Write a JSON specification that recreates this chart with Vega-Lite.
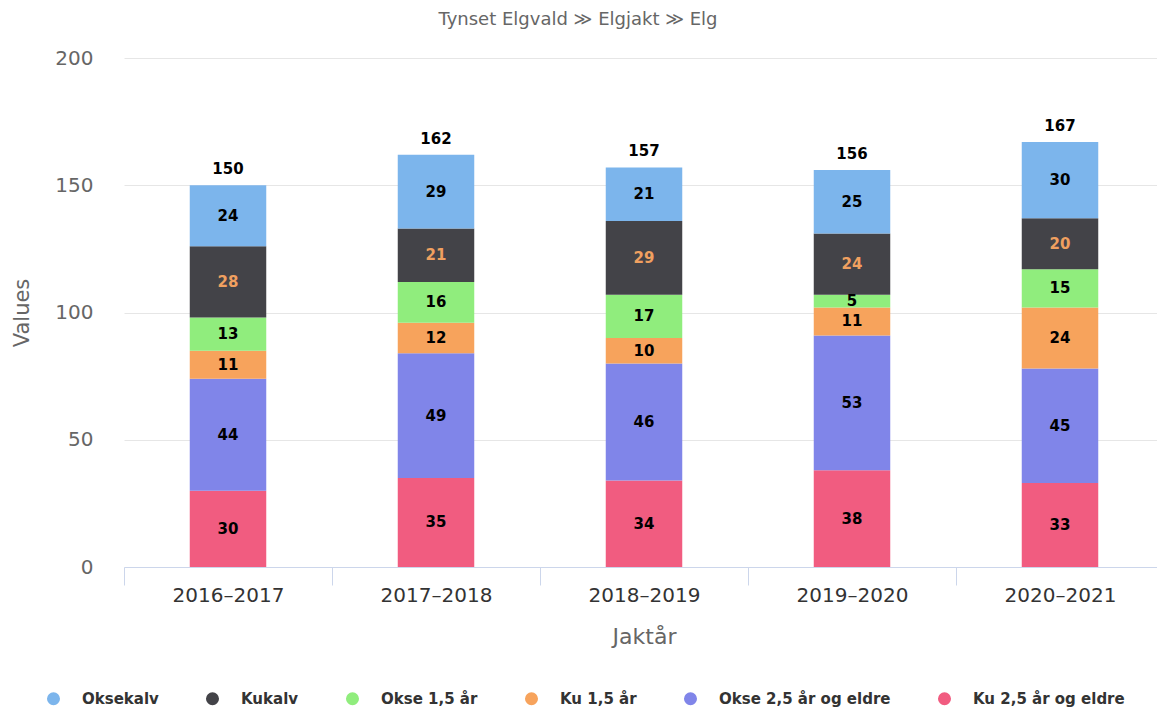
{
  "$schema": "https://vega.github.io/schema/vega-lite/v6.json",
  "autosize": {"type": "none"},
  "width": 1034,
  "height": 509,
  "padding": {"left": 123, "top": 58, "right": 0, "bottom": 141},
  "config": {"font": "DejaVu Sans", "view": {"stroke": null}},
  "title": {"text": "Tynset Elgvald ≫ Elgjakt ≫ Elg", "fontSize": 18, "fontWeight": "normal", "color": "#666666", "anchor": "middle", "dx": -62, "offset": 19},
  "data": {"values": [
    {"year": "2016–2017", "category": "Ku 2,5 år og eldre", "value": 30},
    {"year": "2016–2017", "category": "Okse 2,5 år og eldre", "value": 44},
    {"year": "2016–2017", "category": "Ku 1,5 år", "value": 11},
    {"year": "2016–2017", "category": "Okse 1,5 år", "value": 13},
    {"year": "2016–2017", "category": "Kukalv", "value": 28},
    {"year": "2016–2017", "category": "Oksekalv", "value": 24},
    {"year": "2017–2018", "category": "Ku 2,5 år og eldre", "value": 35},
    {"year": "2017–2018", "category": "Okse 2,5 år og eldre", "value": 49},
    {"year": "2017–2018", "category": "Ku 1,5 år", "value": 12},
    {"year": "2017–2018", "category": "Okse 1,5 år", "value": 16},
    {"year": "2017–2018", "category": "Kukalv", "value": 21},
    {"year": "2017–2018", "category": "Oksekalv", "value": 29},
    {"year": "2018–2019", "category": "Ku 2,5 år og eldre", "value": 34},
    {"year": "2018–2019", "category": "Okse 2,5 år og eldre", "value": 46},
    {"year": "2018–2019", "category": "Ku 1,5 år", "value": 10},
    {"year": "2018–2019", "category": "Okse 1,5 år", "value": 17},
    {"year": "2018–2019", "category": "Kukalv", "value": 29},
    {"year": "2018–2019", "category": "Oksekalv", "value": 21},
    {"year": "2019–2020", "category": "Ku 2,5 år og eldre", "value": 38},
    {"year": "2019–2020", "category": "Okse 2,5 år og eldre", "value": 53},
    {"year": "2019–2020", "category": "Ku 1,5 år", "value": 11},
    {"year": "2019–2020", "category": "Okse 1,5 år", "value": 5},
    {"year": "2019–2020", "category": "Kukalv", "value": 24},
    {"year": "2019–2020", "category": "Oksekalv", "value": 25},
    {"year": "2020–2021", "category": "Ku 2,5 år og eldre", "value": 33},
    {"year": "2020–2021", "category": "Okse 2,5 år og eldre", "value": 45},
    {"year": "2020–2021", "category": "Ku 1,5 år", "value": 24},
    {"year": "2020–2021", "category": "Okse 1,5 år", "value": 15},
    {"year": "2020–2021", "category": "Kukalv", "value": 20},
    {"year": "2020–2021", "category": "Oksekalv", "value": 30}
  ]},
  "transform": [
    {"calculate": "indexof(['Ku 2,5 år og eldre','Okse 2,5 år og eldre','Ku 1,5 år','Okse 1,5 år','Kukalv','Oksekalv'], datum.category)", "as": "stackOrder"}
  ],
  "encoding": {
    "x": {
      "field": "year", "type": "nominal", "sort": null,
      "scale": {"range": [1, 1041], "paddingInner": 0, "paddingOuter": 0},
      "axis": {
        "title": "Jaktår", "labelAngle": 0, "labelFontSize": 20, "labelColor": "#333333",
        "domainColor": "#ccd6eb", "tickColor": "#ccd6eb", "tickSize": 18, "tickBand": "extent",
        "labelPadding": 0, "titleFontSize": 22, "titleColor": "#666666", "titleFontWeight": "normal", "titlePadding": 21
      }
    }
  },
  "layer": [
    {
      "mark": {"type": "bar", "width": 76.5},
      "encoding": {
        "y": {
          "field": "value", "type": "quantitative", "stack": "zero",
          "scale": {"domain": [0, 200], "nice": false},
          "axis": {
            "title": "Values", "values": [0, 50, 100, 150, 200], "labelFontSize": 20, "labelColor": "#666666",
            "domain": false, "ticks": false, "labelPadding": 30, "gridColor": "#e6e6e6",
            "titleFontSize": 21, "titleColor": "#666666", "titleFontWeight": "normal", "titlePadding": 22
          }
        },
        "order": {"field": "stackOrder", "type": "quantitative"},
        "color": {
          "field": "category", "type": "nominal",
          "scale": {
            "domain": ["Oksekalv", "Kukalv", "Okse 1,5 år", "Ku 1,5 år", "Okse 2,5 år og eldre", "Ku 2,5 år og eldre"],
            "range": ["#7cb5ec", "#434348", "#90ed7d", "#f7a35c", "#8085e9", "#f15c80"]
          },
          "legend": {
            "orient": "none", "legendX": -77, "legendY": 633, "direction": "horizontal", "title": null,
            "symbolType": "circle", "symbolSize": 170, "symbolStrokeWidth": 0, "symbolOpacity": 1,
            "labelFontSize": 15, "labelFontWeight": "bold", "labelColor": "#333333", "labelLimit": 400,
            "columnPadding": 46, "labelOffset": 21
          }
        }
      }
    },
    {
      "mark": {"type": "text", "fontSize": 15, "fontWeight": "bold", "baseline": "middle"},
      "encoding": {
        "y": {"field": "value", "type": "quantitative", "stack": "zero", "bandPosition": 0.5},
        "order": {"field": "stackOrder", "type": "quantitative"},
        "detail": {"field": "category"},
        "text": {"field": "value", "type": "quantitative"},
        "color": {"condition": {"test": "datum.category === 'Kukalv'", "value": "#f0a060"}, "value": "#000000"}
      }
    },
    {
      "mark": {"type": "text", "fontSize": 15, "fontWeight": "bold", "baseline": "middle", "dy": -16, "color": "#000000"},
      "encoding": {
        "y": {"aggregate": "sum", "field": "value", "type": "quantitative"},
        "text": {"aggregate": "sum", "field": "value", "type": "quantitative"}
      }
    }
  ]
}
